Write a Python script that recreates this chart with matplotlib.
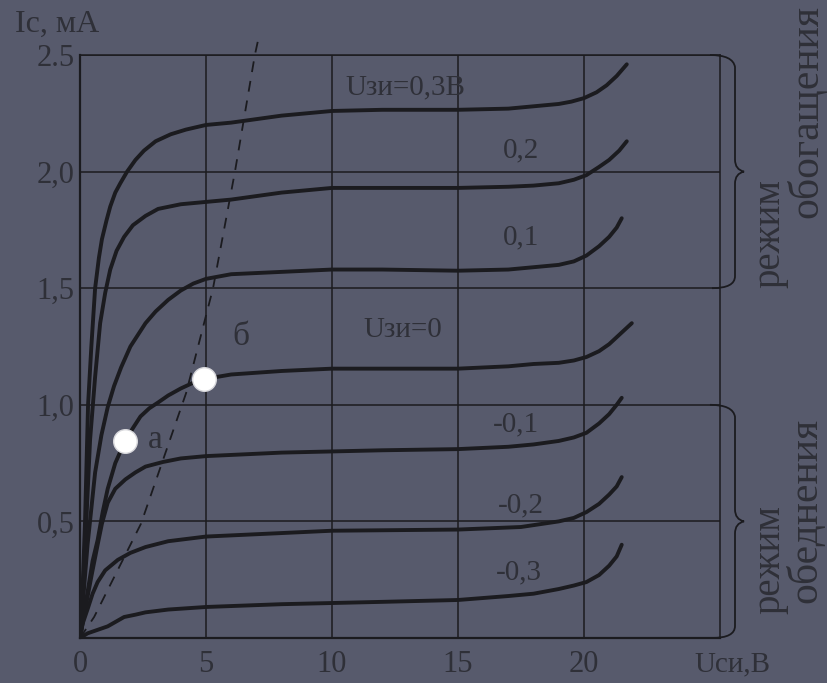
import matplotlib
matplotlib.use('Agg')
import matplotlib.pyplot as plt
from matplotlib.path import Path
from matplotlib.patches import PathPatch

plt.rcParams['font.family'] = ['Liberation Serif', 'DejaVu Serif']

# ---------------- data ----------------
x_p03 = [0, 0.1, 0.2, 0.32, 0.45, 0.6, 0.75, 0.87, 1.05, 1.2, 1.4, 1.6, 1.87, 2.2, 2.54, 3.0, 3.6, 4.2, 5, 6, 8, 10, 12, 15, 17, 18, 19, 19.5, 20, 20.5, 20.9, 21.3, 21.7]
y_p03 = [0, 0.2, 0.5, 1.0, 1.25, 1.5, 1.63, 1.71, 1.79, 1.85, 1.91, 1.95, 2.0, 2.05, 2.09, 2.13, 2.16, 2.18, 2.20, 2.21, 2.24, 2.26, 2.265, 2.265, 2.27, 2.28, 2.29, 2.30, 2.315, 2.34, 2.37, 2.41, 2.46]

x_p02 = [0, 0.12, 0.25, 0.4, 0.6, 0.8, 1.0, 1.2, 1.45, 1.75, 2.1, 2.6, 3.1, 4, 5, 6, 8, 10, 15, 17, 18, 19, 19.6, 20.1, 20.6, 21.0, 21.4, 21.7]
y_p02 = [0, 0.2, 0.5, 0.85, 1.12, 1.35, 1.48, 1.58, 1.66, 1.72, 1.77, 1.81, 1.84, 1.86, 1.87, 1.88, 1.91, 1.93, 1.93, 1.935, 1.94, 1.95, 1.965, 1.985, 2.02, 2.05, 2.09, 2.13]

x_p01 = [0, 0.15, 0.3, 0.6, 0.85, 1.1, 1.35, 1.63, 2.0, 2.6, 3.0, 3.5, 4.0, 4.5, 5, 6, 8, 10, 12, 15, 17, 18, 19, 19.6, 20.1, 20.6, 21.0, 21.3, 21.5]
y_p01 = [0, 0.2, 0.4, 0.71, 0.87, 0.99, 1.08, 1.16, 1.25, 1.35, 1.40, 1.45, 1.49, 1.52, 1.54, 1.56, 1.57, 1.58, 1.58, 1.575, 1.58, 1.59, 1.60, 1.615, 1.64, 1.68, 1.72, 1.76, 1.80]

x_z0 = [0, 0.2, 0.5, 0.7, 0.9, 1.1, 1.4, 1.79, 2.1, 2.4, 2.75, 3.1, 3.5, 4.0, 4.5, 4.92, 6, 8, 10, 12, 15, 17, 18, 19, 19.6, 20.1, 20.6, 21.0, 21.4, 21.9]
y_z0 = [0, 0.13, 0.33, 0.42, 0.54, 0.64, 0.75, 0.845, 0.9, 0.95, 0.985, 1.01, 1.04, 1.07, 1.095, 1.11, 1.13, 1.145, 1.155, 1.155, 1.155, 1.165, 1.175, 1.18, 1.19, 1.205, 1.23, 1.26, 1.30, 1.35]

x_m01 = [0, 0.2, 0.48, 0.7, 0.87, 1.1, 1.4, 1.8, 2.2, 2.6, 3.3, 4, 5, 6, 8, 10, 12, 15, 17, 18, 19, 19.6, 20.1, 20.6, 21.0, 21.3, 21.5]
y_m01 = [0, 0.12, 0.28, 0.4, 0.49, 0.58, 0.64, 0.68, 0.71, 0.735, 0.755, 0.77, 0.78, 0.785, 0.795, 0.80, 0.805, 0.81, 0.82, 0.83, 0.845, 0.86, 0.88, 0.92, 0.96, 1.0, 1.03]

x_m02 = [0, 0.1, 0.32, 0.5, 0.7, 1.0, 1.5, 2.0, 2.6, 3.5, 5, 6, 8, 10, 12, 15, 17.5, 19, 19.6, 20.1, 20.6, 21.0, 21.3, 21.5]
y_m02 = [0, 0.06, 0.13, 0.19, 0.24, 0.29, 0.335, 0.365, 0.39, 0.415, 0.435, 0.44, 0.45, 0.46, 0.462, 0.465, 0.476, 0.50, 0.515, 0.54, 0.575, 0.615, 0.65, 0.69]

x_m03 = [0, 0.3, 0.7, 1.1, 1.75, 2.2, 2.6, 3.5, 5, 6, 8, 10, 12, 15, 17, 18, 19, 19.6, 20.1, 20.6, 21.0, 21.3, 21.5]
y_m03 = [0, 0.02, 0.035, 0.05, 0.09, 0.10, 0.11, 0.122, 0.133, 0.137, 0.145, 0.15, 0.155, 0.163, 0.18, 0.19, 0.21, 0.225, 0.24, 0.27, 0.31, 0.35, 0.40]

# boundary of saturation region (dashed)
x_dash = [0, 0.56, 2.42, 4.21, 5.28, 6.15, 6.94, 7.1]
y_dash = [0, 0.09, 0.49, 1.05, 1.5, 2.0, 2.5, 2.58]

# working points а and б
pt_x = [1.79, 4.92]
pt_y = [0.845, 1.11]
pt_labels = ['а', 'б']
pt_label_x = [3.0, 6.4]
pt_label_y = [0.85, 1.29]

curve_labels = ['Uзи=0,3В', '0,2', '0,1', 'Uзи=0', '-0,1', '-0,2', '-0,3']
label_x = [12.9, 17.5, 17.5, 12.8, 17.3, 17.5, 17.4]
label_y = [2.36, 2.09, 1.72, 1.32, 0.915, 0.57, 0.28]

x_ticks = [0, 5, 10, 15, 20]
x_ticklabels = ['0', '5', '10', '15', '20']
y_ticks = [0.5, 1.0, 1.5, 2.0, 2.5]
y_ticklabels = ['0,5', '1,0', '1,5', '2,0', '2.5']

# ---------------- figure ----------------
W, H = 828, 683
bg = '#575a6c'
ink = '#1b1b1f'
txt = '#2f3038'

fig = plt.figure(figsize=(W / 100, H / 100), dpi=100)
fig.patch.set_facecolor(bg)
ax = fig.add_axes([80 / W, 1 - 638 / H, 640 / W, (638 - 55) / H])
ax.set_facecolor(bg)
ax.set_xlim(0, 25.4)
ax.set_ylim(0, 2.5)

for s in ax.spines.values():
    s.set_color(ink)
    s.set_linewidth(1.1)
ax.spines['left'].set_linewidth(1.6)
ax.spines['bottom'].set_linewidth(1.6)

ax.set_xticks(x_ticks)
ax.set_xticklabels(x_ticklabels)
ax.set_yticks(y_ticks)
ax.set_yticklabels(y_ticklabels)
ax.tick_params(axis='x', length=0, pad=9, labelsize=22, labelcolor=txt)
ax.tick_params(axis='y', length=0, pad=4, labelsize=22, labelcolor=txt)
ax.grid(True, color=ink, linewidth=1.1)
ax.set_axisbelow(True)

series = [(x_p03, y_p03), (x_p02, y_p02), (x_p01, y_p01), (x_z0, y_z0),
          (x_m01, y_m01), (x_m02, y_m02), (x_m03, y_m03)]
for xs, ys in series:
    ax.plot(xs, ys, color=ink, linewidth=2.8, solid_capstyle='round',
            solid_joinstyle='round', zorder=3)

ax.plot(x_dash, y_dash, color=ink, linewidth=1.3, linestyle=(0, (6, 5)),
        clip_on=False, zorder=2)

ax.plot(pt_x, pt_y, 'o', markersize=17, markerfacecolor='white',
        markeredgecolor='#d8d8dc', markeredgewidth=1, zorder=5)
for lab, lx, ly in zip(pt_labels, pt_label_x, pt_label_y):
    ax.text(lx, ly, lab, fontsize=24, color=txt, ha='center', va='center')

for lab, lx, ly in zip(curve_labels, label_x, label_y):
    ax.text(lx, ly, lab, fontsize=21, color=txt, ha='center', va='center')

# axis titles
fig.text(15 / W, 1 - 24 / H, 'Iс, мА', fontsize=23, color=txt, ha='left', va='center')
fig.text(732 / W, 1 - 664 / H, 'Uси,В', fontsize=21, color=txt, ha='center', va='center')


# braces on the right
def brace(y_bot, y_top):
    tr = fig.transFigure
    def P(px, py):
        return (px / W, 1 - py / H)
    def py_of(y):
        return 638 - y * (638 - 55) / 2.5
    yt, yb = py_of(y_top), py_of(y_bot)
    ym = (yt + yb) / 2
    verts = [P(710, yt), P(733, yt), P(735, yt + 12),
             P(735, ym - 12), P(735, ym - 2), P(744, ym),
             P(735, ym + 2), P(735, ym + 12),
             P(735, yb - 12), P(735, yb), P(712, yb)]
    codes = [Path.MOVETO, Path.CURVE3, Path.CURVE3,
             Path.LINETO, Path.CURVE3, Path.CURVE3,
             Path.CURVE3, Path.CURVE3,
             Path.LINETO, Path.CURVE3, Path.CURVE3]
    fig.patches.append(PathPatch(Path(verts, codes), transform=tr, fill=False,
                                 edgecolor=ink, linewidth=1.3))

brace(1.5, 2.5)
brace(0.0, 1.0)

fig.text(770 / W, 1 - 234 / H, 'режим', rotation=90, fontsize=28, color=txt, ha='center', va='center')
fig.text(806 / W, 1 - 112 / H, 'обогащения', rotation=90, fontsize=30, color=txt, ha='center', va='center')
fig.text(770 / W, 1 - 560 / H, 'режим', rotation=90, fontsize=28, color=txt, ha='center', va='center')
fig.text(806 / W, 1 - 510 / H, 'обеднения', rotation=90, fontsize=30, color=txt, ha='center', va='center')

fig.savefig('out.png', dpi=100, facecolor=bg)
